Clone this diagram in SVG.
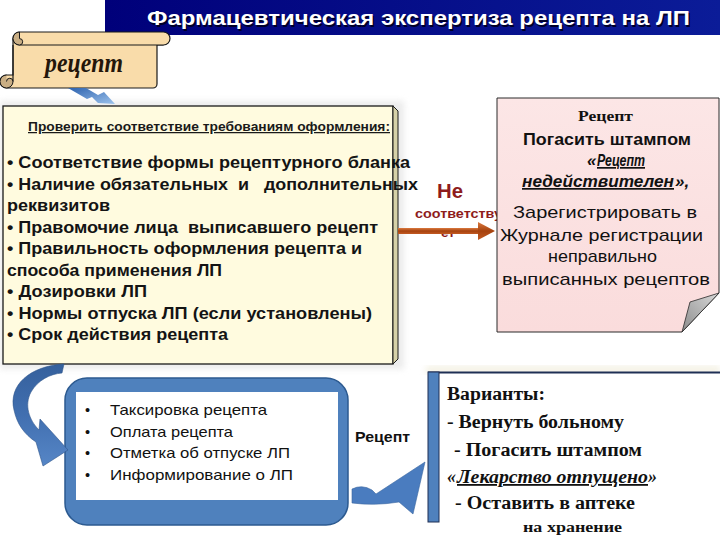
<svg xmlns="http://www.w3.org/2000/svg" width="720" height="540" viewBox="0 0 720 540">
<defs>
<style>
.sans{font-family:"Liberation Sans",Arial,sans-serif;}
.serif{font-family:"Liberation Serif","Times New Roman",serif;}
.b{font-weight:bold;}
.it{font-style:italic;}
.u{text-decoration:underline;}
.main{font-size:17px;font-weight:bold;fill:#141414;}
.pink{font-size:17px;fill:#111;}
.list{font-size:14.5px;fill:#111;}
.var{font-size:18px;font-weight:bold;fill:#111;}
.red{fill:#8E1C1C;font-weight:bold;}
</style>
<linearGradient id="titleGrad" x1="0" y1="0" x2="1" y2="0"><stop offset="0" stop-color="#00007A"/><stop offset="1" stop-color="#0B1C98"/></linearGradient>
<linearGradient id="brownGrad" x1="0" y1="0" x2="0" y2="1"><stop offset="0" stop-color="#DB7A40"/><stop offset="0.5" stop-color="#A6420E"/><stop offset="1" stop-color="#C35A22"/></linearGradient>
<linearGradient id="curveGrad" x1="0" y1="0" x2="0" y2="1"><stop offset="0" stop-color="#35609C"/><stop offset="0.5" stop-color="#416FB0"/><stop offset="1" stop-color="#5686C6"/></linearGradient>
<linearGradient id="boltGrad" x1="0" y1="0" x2="1" y2="1"><stop offset="0" stop-color="#2D62AE"/><stop offset="1" stop-color="#9CC2EC"/></linearGradient>
<linearGradient id="foldGrad" x1="0" y1="1" x2="1" y2="0"><stop offset="0" stop-color="#8C8C8C"/><stop offset="1" stop-color="#D8D8D8"/></linearGradient>
<linearGradient id="pinkGrad" x1="0" y1="0" x2="0" y2="1"><stop offset="0" stop-color="#FCE6E6"/><stop offset="1" stop-color="#FADCDC"/></linearGradient>
<filter id="blur" x="-10%" y="-10%" width="120%" height="120%"><feGaussianBlur stdDeviation="3"/></filter>
</defs>

<rect width="720" height="540" fill="#FFFFFF"/>

<!-- title -->
<g id="title">
<rect x="105" y="0" width="615" height="35" fill="url(#titleGrad)"/>
<text x="148.5" y="26.5" class="sans b" font-size="21" fill="#000028" textLength="543" lengthAdjust="spacingAndGlyphs">Фармацевтическая экспертиза рецепта на ЛП</text>
<text x="147" y="25" class="sans b" font-size="21" fill="#FFFFFF" textLength="543" lengthAdjust="spacingAndGlyphs">Фармацевтическая экспертиза рецепта на ЛП</text>
</g>

<!-- scroll node -->
<g id="scroll">
<path d="M 13 39 H 163 V 45 H 157 V 84 A 4 4 0 0 1 153 88 H 6.5 A 6.5 6.5 0 0 1 6.5 75 H 13 Z" fill="#F9DCAA" stroke="#1A1A1A" stroke-width="1.2"/>
<rect x="13" y="32" width="157" height="13" rx="6.5" fill="#F9DCAA" stroke="#1A1A1A" stroke-width="1.2"/>
<path d="M 19.5 32 A 6.5 6.5 0 0 0 19.5 45 A 3.2 3.2 0 0 0 19.5 38.6 Z" fill="#C9AE84" stroke="#1A1A1A" stroke-width="1"/>
<path d="M 6.5 75 A 6.5 6.5 0 0 0 6.5 88 A 6.5 6.5 0 0 0 13 81.5 A 3.2 3.2 0 0 0 6.5 81.5" fill="#C9AE84" stroke="#1A1A1A" stroke-width="1"/>
<line x1="13" y1="45" x2="13" y2="81.5" stroke="#1A1A1A" stroke-width="1.2"/>
<text x="45" y="72" class="serif b it" font-size="27" fill="#24160A" textLength="78" lengthAdjust="spacingAndGlyphs">рецепт</text>
</g>

<!-- label on brown arrow (drawn under the arrow) -->
<g id="label-mismatch">
<text x="437" y="198" class="sans red" font-size="21" textLength="26" lengthAdjust="spacingAndGlyphs">Не</text>
<text x="415" y="217.5" class="sans red" font-size="12" textLength="87" lengthAdjust="spacingAndGlyphs">соответству</text>
<text x="441" y="237" class="sans red" font-size="12" textLength="14" lengthAdjust="spacingAndGlyphs">ет</text>
</g>

<!-- main check box -->
<g id="check">
<rect x="0" y="101" width="404" height="268" fill="#D8D8D8" opacity="0.5" filter="url(#blur)"/>
<rect x="3" y="106" width="390" height="258" fill="#FFFBDF" stroke="#1A1A1A" stroke-width="1.3"/>
<polygon points="393,106 398,111 398,359 393,364" fill="#D6D1A8" stroke="#1A1A1A" stroke-width="1"/>
<text x="28" y="131" class="sans b u" font-size="12.5" fill="#1A1A1A" textLength="362" lengthAdjust="spacingAndGlyphs">Проверить соответствие требованиям оформления:</text>
<text x="7" y="168" class="sans main" textLength="403" lengthAdjust="spacingAndGlyphs">• Соответствие формы рецептурного бланка</text>
<text x="7" y="189.5" class="sans main" textLength="411" lengthAdjust="spacingAndGlyphs" xml:space="preserve">• Наличие обязательных  и   дополнительных</text>
<text x="7" y="211" class="sans main" textLength="103" lengthAdjust="spacingAndGlyphs">реквизитов</text>
<text x="7" y="232.5" class="sans main" textLength="371" lengthAdjust="spacingAndGlyphs" xml:space="preserve">• Правомочие лица  выписавшего рецепт</text>
<text x="7" y="254" class="sans main" textLength="355" lengthAdjust="spacingAndGlyphs">• Правильность оформления рецепта и</text>
<text x="7" y="275.5" class="sans main" textLength="215" lengthAdjust="spacingAndGlyphs">способа применения ЛП</text>
<text x="7" y="297" class="sans main" textLength="140" lengthAdjust="spacingAndGlyphs">• Дозировки ЛП</text>
<text x="7" y="318.5" class="sans main" textLength="365" lengthAdjust="spacingAndGlyphs">• Нормы отпуска ЛП (если установлены)</text>
<text x="7" y="340" class="sans main" textLength="221" lengthAdjust="spacingAndGlyphs">• Срок действия рецепта</text>
</g>

<!-- pink note -->
<g id="invalid">
<polygon points="497,98 719,98 719,293 682,332 497,332" fill="url(#pinkGrad)" stroke="#2A2A2A" stroke-width="1"/>
<polygon points="682,332 690,302 719,293" fill="url(#foldGrad)" stroke="#2A2A2A" stroke-width="0.8"/>
<text x="578" y="121" class="serif b" font-size="15" fill="#111" textLength="55" lengthAdjust="spacingAndGlyphs">Рецепт</text>
<text x="523" y="145" class="sans b pink" textLength="168" lengthAdjust="spacingAndGlyphs">Погасить штампом</text>
<text x="587" y="166" class="sans b it pink">«</text>
<text x="597" y="166" class="sans b it pink u" textLength="48" lengthAdjust="spacingAndGlyphs">Рецепт</text>
<text x="522" y="187" class="sans b it pink u" textLength="152" lengthAdjust="spacingAndGlyphs">недействителен</text>
<text x="675" y="187" class="sans b it pink">»,</text>
<text x="513" y="218" class="sans pink" textLength="184" lengthAdjust="spacingAndGlyphs">Зарегистрировать в</text>
<text x="500" y="241" class="sans pink" textLength="203" lengthAdjust="spacingAndGlyphs">Журнале регистрации</text>
<text x="548" y="262" class="sans pink" textLength="109" lengthAdjust="spacingAndGlyphs">неправильно</text>
<text x="502" y="285" class="sans pink" textLength="208" lengthAdjust="spacingAndGlyphs">выписанных рецептов</text>
</g>

<!-- blue rounded box -->
<g id="dispense">
<rect x="65" y="378" width="283" height="147" rx="22" fill="#4F81BD" stroke="#2C5A90" stroke-width="1.5"/>
<rect x="76" y="392" width="262" height="108" fill="#FFFFFF"/>
<g class="sans list">
<text x="85" y="415">•</text><text x="110" y="415" textLength="157" lengthAdjust="spacingAndGlyphs">Таксировка рецепта</text>
<text x="85" y="437">•</text><text x="110" y="437" textLength="123" lengthAdjust="spacingAndGlyphs">Оплата рецепта</text>
<text x="85" y="458">•</text><text x="110" y="458" textLength="180" lengthAdjust="spacingAndGlyphs">Отметка об отпуске ЛП</text>
<text x="85" y="480">•</text><text x="110" y="480" textLength="183" lengthAdjust="spacingAndGlyphs">Информирование о ЛП</text>
</g>
</g>

<g id="label-recipe">
<text x="355" y="442" class="sans b" font-size="14" fill="#111" textLength="55" lengthAdjust="spacingAndGlyphs">Рецепт</text>
</g>

<!-- variants box -->
<g id="variants">
<rect x="426" y="366" width="294" height="8" fill="#EFEBD8" opacity="0.7" filter="url(#blur)"/>
<rect x="428" y="372" width="294" height="150" fill="#FFFFFF"/>
<line x1="428" y1="372.5" x2="720" y2="372.5" stroke="#1F2F55" stroke-width="2"/>
<rect x="428" y="372" width="11" height="150" fill="#4F81BD" stroke="#1F2F55" stroke-width="1"/>
<text x="447" y="400" class="serif var" textLength="98" lengthAdjust="spacingAndGlyphs">Варианты:</text>
<text x="447" y="428" class="serif var" textLength="177" lengthAdjust="spacingAndGlyphs">- Вернуть больному</text>
<text x="454" y="456" class="serif var" textLength="188" lengthAdjust="spacingAndGlyphs">- Погасить штампом</text>
<text x="447" y="483" class="serif var it">«</text>
<text x="457" y="483" class="serif var it u" textLength="191" lengthAdjust="spacingAndGlyphs">Лекарство отпущено</text>
<text x="648" y="483" class="serif var it">»</text>
<text x="455" y="509" class="serif var" textLength="180" lengthAdjust="spacingAndGlyphs">- Оставить в аптеке</text>
<text x="523" y="532" class="serif b" font-size="14" fill="#111" textLength="99" lengthAdjust="spacingAndGlyphs">на хранение</text>
</g>

<!-- connectors -->
<g id="connectors">
<polygon points="68,88 86,88 98,95 104,92 115,104 98,103 92,97 87,99" fill="url(#boltGrad)"/>
<path d="M 64 364 C 30 366, 8 385, 14 410 C 17 424, 24 434, 36 442 L 43 466 L 68 450 L 40 419 L 39 430 C 29 420, 24 405, 31 392 C 38 380, 50 374, 62 373 Z" fill="url(#curveGrad)" stroke="#2F568C" stroke-width="0.6"/>
<path d="M 352 489 Q 362 484 372 490 L 376 494 L 425 462 L 413 514 L 399 502 Q 375 506 352 503 Z" fill="#4A7CBF" stroke="#3A679F" stroke-width="0.6"/>
<rect x="398" y="228" width="81" height="6" fill="url(#brownGrad)"/>
<polygon points="478,222 495,231 478,240" fill="url(#brownGrad)"/>
</g>
</svg>
